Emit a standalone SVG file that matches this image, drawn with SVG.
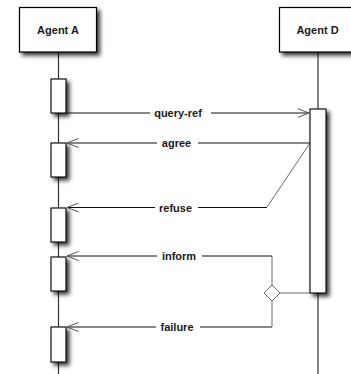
<svg xmlns="http://www.w3.org/2000/svg" width="351" height="374" viewBox="0 0 351 374">
<defs>
<filter id="sh" x="-40%" y="-30%" width="200%" height="180%">
<feGaussianBlur in="SourceAlpha" stdDeviation="2.2"/>
<feOffset dx="3" dy="3" result="o"/>
<feComponentTransfer><feFuncA type="linear" slope="0.8"/></feComponentTransfer>
<feMerge><feMergeNode/><feMergeNode in="SourceGraphic"/></feMerge>
</filter>
<marker id="arr" viewBox="0 0 12 10" refX="11.5" refY="5" markerWidth="12" markerHeight="10" markerUnits="userSpaceOnUse" orient="auto">
<path d="M0,0.5 L11.5,5 L0,9.5" fill="none" stroke="#555" stroke-width="1"/>
</marker>
</defs>
<style>
.box{fill:#fff;stroke:#000;stroke-width:1.2}
.act{fill:#fff;stroke:#000;stroke-width:1.1}
.life{stroke:#333;stroke-width:1.2;fill:none}
.msg{stroke:#111;stroke-width:1;fill:none}
.thin{stroke:#444;stroke-width:0.8;fill:none}
.lbl{font-family:"Liberation Sans",Arial,sans-serif;font-size:11px;font-weight:bold;fill:#1a1a1a;text-anchor:middle}
</style>
<rect width="351" height="374" fill="#fff"/>
<g id="lifelines">
<line class="life" x1="58.5" y1="52" x2="58.5" y2="374"/>
<line class="life" x1="318" y1="52" x2="318" y2="374"/>
</g>
<g id="agentA">
<rect class="box" x="19.5" y="7.5" width="77" height="44.5" filter="url(#sh)"/>
<text class="lbl" x="58" y="33.5">Agent A</text>
</g>
<g id="agentD">
<rect class="box" x="279.5" y="7.5" width="77" height="44.5" filter="url(#sh)"/>
<text class="lbl" x="317.5" y="34">Agent D</text>
</g>
<g id="activationsA">
<rect class="act" x="51" y="79" width="15" height="34" filter="url(#sh)"/>
<rect class="act" x="51" y="143" width="15" height="34" filter="url(#sh)"/>
<rect class="act" x="51" y="208" width="15" height="34" filter="url(#sh)"/>
<rect class="act" x="51" y="257" width="15" height="34" filter="url(#sh)"/>
<rect class="act" x="51" y="327" width="15" height="35" filter="url(#sh)"/>
</g>
<g id="activationD">
<rect class="act" x="310" y="109" width="16" height="184" filter="url(#sh)"/>
</g>
<g id="connectors">
<line class="msg" x1="66" y1="113" x2="150" y2="113"/>
<line class="msg" x1="211" y1="113" x2="309" y2="113" marker-end="url(#arr)"/>
<line class="msg" x1="310" y1="143" x2="198" y2="143"/>
<line class="msg" x1="157" y1="143" x2="67" y2="143" marker-end="url(#arr)"/>
<polyline class="thin" points="310,143 267,207"/>
<line class="msg" x1="267" y1="207.5" x2="198" y2="207.5"/>
<line class="msg" x1="155" y1="207.5" x2="67" y2="207.5" marker-end="url(#arr)"/>
<line class="msg" x1="272" y1="256" x2="202" y2="256"/>
<line class="msg" x1="157" y1="256" x2="67" y2="256" marker-end="url(#arr)"/>
<line class="msg" x1="272" y1="327" x2="200" y2="327"/>
<line class="msg" x1="156" y1="327" x2="67" y2="327" marker-end="url(#arr)"/>
<line class="thin" x1="272" y1="256" x2="272" y2="285"/>
<line class="thin" x1="272" y1="301" x2="272" y2="327"/>
<polygon class="thin" points="272,285 280,293 272,301 264,293" fill="#fff"/>
<line class="thin" x1="280" y1="293" x2="310" y2="293"/>
<text class="lbl" x="178" y="117">query-ref</text>
<text class="lbl" x="176.5" y="147">agree</text>
<text class="lbl" x="175.5" y="211.5">refuse</text>
<text class="lbl" x="179" y="260">inform</text>
<text class="lbl" x="177" y="331">failure</text>
</g>
</svg>
